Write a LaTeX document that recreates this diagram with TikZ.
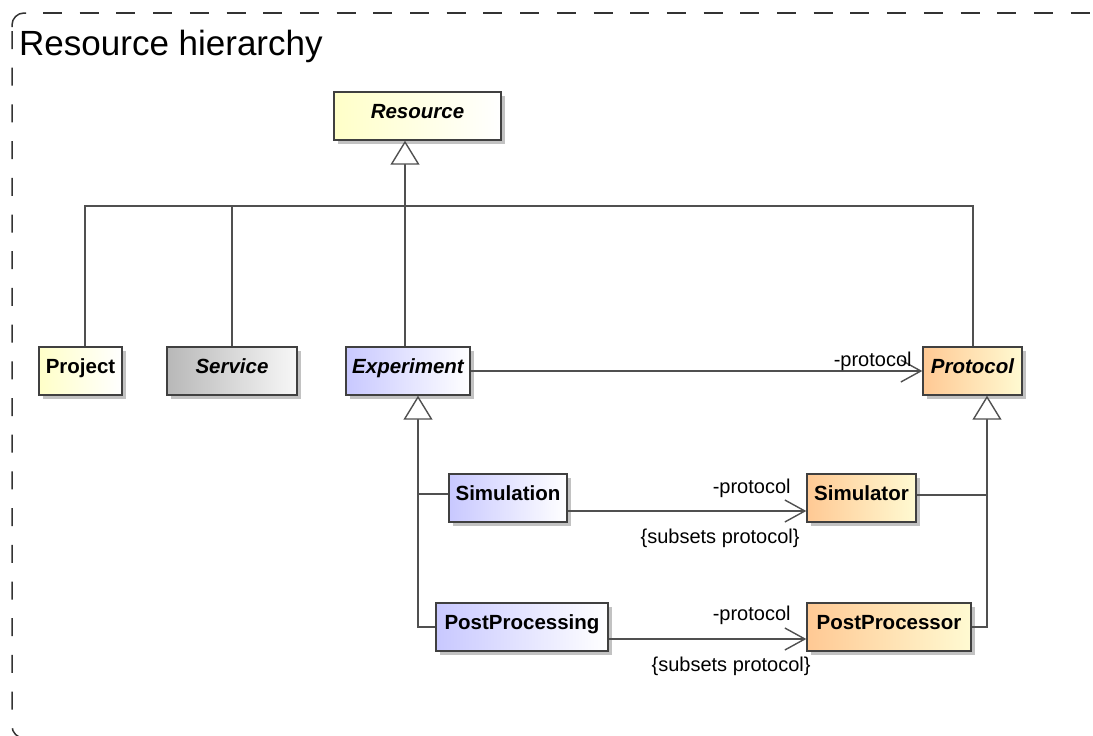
\documentclass[tikz,border=0pt]{standalone}
\usepackage{fontspec}
\setmainfont{Liberation Sans}
\usetikzlibrary{arrows.meta,shadows}

\definecolor{clsyellow}{HTML}{FFFFC8}
\definecolor{clsgray}{HTML}{B8B8B8}
\definecolor{clsblue}{HTML}{C8C8FF}
\definecolor{clsorange}{HTML}{FFC994}
\definecolor{clslight}{HTML}{FFFAD2}
\definecolor{linegray}{HTML}{505050}

\tikzset{
  cls/.style={draw=black!75, line width=1.4pt, minimum height=48pt, inner sep=0pt,
    text height=14pt, text depth=10pt, font=\fontsize{20.5}{24}\selectfont\bfseries,
    drop shadow={shadow xshift=4pt, shadow yshift=-4pt, fill=black!40, opacity=0.6}},
  abstractcls/.style={font=\fontsize{20.5}{24}\selectfont\bfseries\itshape},
  yellowcls/.style={cls, left color=clsyellow, right color=white},
  graycls/.style={cls, left color=clsgray, right color=white!97!black},
  bluecls/.style={cls, left color=clsblue, right color=white},
  orangecls/.style={cls, left color=clsorange, right color=clslight},
  conn/.style={draw=linegray, line width=1.4pt},
  gen/.style={conn, -{Triangle[open, fill=white, length=24pt, width=29pt]}},
  assoc/.style={conn, -{Straight Barb[length=20pt, width=22pt]}},
  lbl/.style={inner sep=0pt, anchor=base east, font=\fontsize{20}{24}\selectfont},
  frame/.style={black!80, line width=1.5pt, rounded corners=12pt}
}

\begin{document}
\begin{tikzpicture}[x=1pt,y=-1pt]
  \useasboundingbox (0,0) rectangle (1093,736);
  \clip (0,0) rectangle (1093,736);
  % frame
  \draw[frame] (12,27) -- (12,13) -- (26,13);
  \draw[frame, dash pattern=on 19pt off 17.7pt] (43,13) -- (1100,13);
  \draw[frame, dash pattern=on 18pt off 18.7pt] (12,31) -- (12,738) -- (200,738);
  \node[inner sep=0pt, anchor=base west, font=\fontsize{35}{40}\selectfont] (title) at (19,55) {Resource hierarchy};

  % classes
  \node[yellowcls, abstractcls, minimum width=167pt] (resource) at (417.5,116) {Resource};
  \node[yellowcls, minimum width=83pt] (project) at (80.5,371) {Project};
  \node[graycls, abstractcls, minimum width=130pt] (service) at (232,371) {Service};
  \node[bluecls, abstractcls, minimum width=124pt] (experiment) at (408,371) {Experiment};
  \node[orangecls, abstractcls, minimum width=99pt] (protocol) at (972.5,371) {Protocol};
  \node[bluecls, minimum width=118pt] (simulation) at (508,498) {Simulation};
  \node[orangecls, minimum width=109pt] (simulator) at (861.5,498) {Simulator};
  \node[bluecls, minimum width=172pt] (postprocessing) at (522,627) {PostProcessing};
  \node[orangecls, minimum width=164pt] (postprocessor) at (889,627) {PostProcessor};

  \coordinate (bar) at (0,206);
  \coordinate (resfoot) at ([xshift=-12.5pt]resource.south);
  \coordinate (expfoot) at ([xshift=10pt]experiment.south);
  \coordinate (protfoot) at ([xshift=14.5pt]protocol.south);
  \coordinate (prothead) at ([xshift=0.5pt]protocol.north);
  \coordinate (simin) at ([yshift=4pt]simulation.west);
  \coordinate (simrout) at ([yshift=3pt]simulator.east);
  \coordinate (simout) at ([yshift=-13pt]simulation.east);
  \coordinate (ppout) at ([yshift=-12pt]postprocessing.east);

  % generalizations
  \draw[gen] (resfoot |- experiment.north) -- (resfoot);
  \draw[conn] ([xshift=4.5pt]project.north) |- (prothead |- bar) -- (prothead);
  \draw[conn] (service.north) -- (service.north |- bar);
  \draw[gen] (postprocessing.west) -| (expfoot);
  \draw[conn] (simin) -- (simin -| expfoot);
  \draw[gen] (postprocessor.east) -| (protfoot);
  \draw[conn] (simrout) -- (simrout -| protfoot);

  % associations
  \draw[assoc] (experiment.east) -- (protocol.west)
    node[lbl, pos=1, xshift=-10pt, yshift=4.5pt] (protexp) {-protocol};
  \draw[assoc] (simout) -- (simout -| simulator.west)
    node[lbl, pos=1, xshift=-15pt, yshift=18pt] (protsim) {-protocol}
    node[lbl, pos=1, xshift=-6pt, yshift=-32pt] (subsim) {\{subsets protocol\}};
  \draw[assoc] (ppout) -- (ppout -| postprocessor.west)
    node[lbl, pos=1, xshift=-15pt, yshift=19pt] (protpp) {-protocol}
    node[lbl, pos=1, xshift=5pt, yshift=-32pt] (subpp) {\{subsets protocol\}};
\end{tikzpicture}
\end{document}
